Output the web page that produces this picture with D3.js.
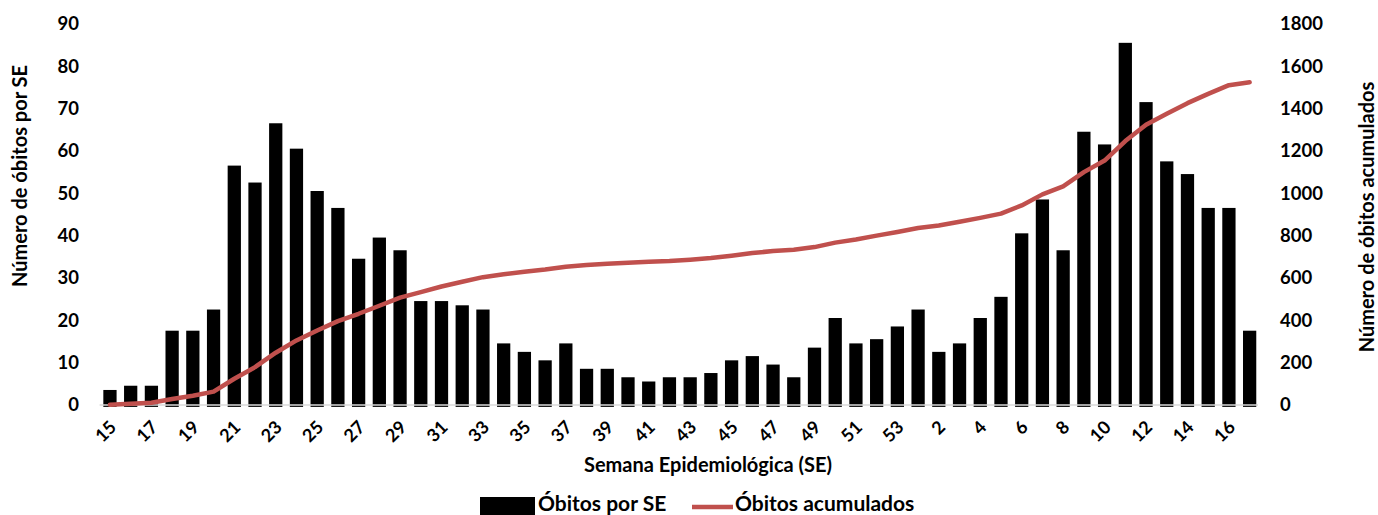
<!DOCTYPE html>
<meta charset="utf-8">
<script src="https://d3js.org/d3.v7.min.js"></script>
<style>
  body { margin: 0; background: #fff; }
  text { font-family: Lato, "Open Sans", sans-serif; font-weight: bold; fill: #000; }
</style>
<div id="chart"></div>
<script>

// semanas epidemiologicas (2020: 15-53, 2021: 1-17)
var semanas = [15,16,17,18,19,20,21,22,23,24,25,26,27,28,29,30,31,32,33,34,35,36,37,38,39,40,
               41,42,43,44,45,46,47,48,49,50,51,52,53,
               1,2,3,4,5,6,7,8,9,10,11,12,13,14,15,16,17];

// obitos por SE
var obitos = [4,5,5,18,18,23,57,53,67,61,51,47,35,40,37,25,25,24,23,15,13,11,15,9,9,7,
              6,7,7,8,11,12,10,7,14,21,15,16,19,
              23,13,15,21,26,41,49,37,65,62,86,72,58,55,47,47,18];

// obitos acumulados
var acumulados = [10,15,20,37,53,72,133,188,256,314,361,405,440,478,516,542,569,591,613,627,639,649,662,670,676,681,
                  686,689,695,703,714,727,736,742,755,776,791,809,826,
                  845,857,875,893,913,952,1004,1042,1109,1164,1256,1333,1385,1435,1479,1520,1534];

var ticksEsq = [0,10,20,30,40,50,60,70,80,90];
var ticksDir = [0,200,400,600,800,1000,1200,1400,1600,1800];

var W = 1378, H = 515;
var margin = {top: 25.9, left: 99.6, width: 1160.4, height: 381};

var svg = d3.select("#chart").append("svg")
    .attr("width", W)
    .attr("height", H);

var keys = d3.range(semanas.length);

var x = d3.scaleBand()
    .domain(keys)
    .range([margin.left, margin.left + margin.width])
    .paddingInner(0.36)
    .paddingOuter(0.18);

var yL = d3.scaleLinear().domain([0, 90]).range([margin.top + margin.height, margin.top]);
var yR = d3.scaleLinear().domain([0, 1800]).range([margin.top + margin.height, margin.top]);

// barras
svg.append("g").selectAll("rect")
    .data(keys)
    .enter().append("rect")
    .attr("x", function(i) { return x(i); })
    .attr("width", x.bandwidth())
    .attr("y", function(i) { return yL(obitos[i]); })
    .attr("height", function(i) { return yL(0) - yL(obitos[i]); })
    .attr("fill", "#000");

// linha de base
svg.append("line")
    .attr("x1", margin.left).attr("x2", margin.left + margin.width - 2)
    .attr("y1", yL(0) - 2).attr("y2", yL(0) - 2)
    .attr("stroke", "#d9d9d9")
    .attr("stroke-width", 1.5);

// linha acumulada
var line = d3.line()
    .x(function(i) { return x(i) + x.bandwidth() / 2; })
    .y(function(i) { return yR(acumulados[i]); });

svg.append("path")
    .datum(keys)
    .attr("d", line)
    .attr("fill", "none")
    .attr("stroke", "#c0504d")
    .attr("stroke-width", 4.5)
    .attr("stroke-linejoin", "round")
    .attr("stroke-linecap", "round");

// eixo esquerdo
svg.append("g").selectAll("text")
    .data(ticksEsq)
    .enter().append("text")
    .attr("x", 79)
    .attr("y", function(d) { return yL(d) - 2; })
    .attr("dy", "0.35em")
    .attr("text-anchor", "end")
    .style("font-size", "18.5px")
    .text(function(d) { return d; });

// eixo direito
svg.append("g").selectAll("text")
    .data(ticksDir)
    .enter().append("text")
    .attr("x", 1280)
    .attr("y", function(d) { return yR(d) - 2; })
    .attr("dy", "0.35em")
    .attr("text-anchor", "start")
    .style("font-size", "18.5px")
    .text(function(d) { return d; });

// rotulos das semanas (um sim, um nao)
svg.append("g").selectAll("text")
    .data(keys.filter(function(i) { return i % 2 === 0; }))
    .enter().append("text")
    .attr("text-anchor", "end")
    .attr("dy", "0.35em")
    .attr("transform", function(i) {
        return "translate(" + (x(i) + x.bandwidth() / 2 + 3) + ",424) rotate(-45)";
    })
    .style("font-size", "18px")
    .text(function(i) { return semanas[i]; });

// titulos
svg.append("text")
    .attr("x", 708).attr("y", 472)
    .attr("text-anchor", "middle")
    .style("font-size", "20px")
    .text("Semana Epidemiológica (SE)");

svg.append("text")
    .attr("transform", "translate(27,176) rotate(-90)")
    .attr("text-anchor", "middle")
    .style("font-size", "20px")
    .text("Número de óbitos por SE");

svg.append("text")
    .attr("transform", "translate(1374,217) rotate(-90)")
    .attr("text-anchor", "middle")
    .style("font-size", "20px")
    .text("Número de óbitos acumulados");

// legenda
var leg = svg.append("g");
leg.append("rect")
    .attr("x", 480).attr("y", 497)
    .attr("width", 55).attr("height", 20)
    .attr("fill", "#000");
leg.append("text")
    .attr("x", 538).attr("y", 511)
    .style("font-size", "21px")
    .text("Óbitos por SE");
leg.append("line")
    .attr("x1", 692).attr("x2", 733)
    .attr("y1", 507).attr("y2", 507)
    .attr("stroke", "#c0504d")
    .attr("stroke-width", 4.5);
leg.append("text")
    .attr("x", 735).attr("y", 511)
    .style("font-size", "21px")
    .text("Óbitos acumulados");

</script>
